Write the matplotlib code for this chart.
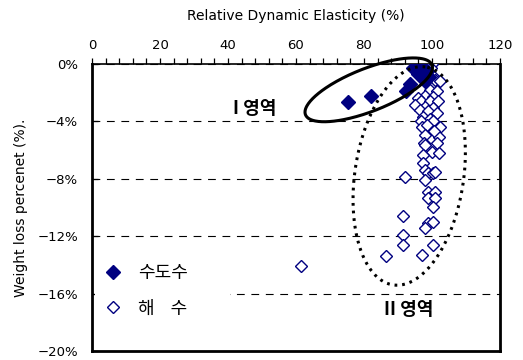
import numpy as np
import matplotlib.pyplot as plt
from matplotlib.font_manager import FontProperties

# tap water specimens (relative dynamic elasticity %, weight loss %)
tap_rde = [75.3, 82.2, 92.3, 93.5, 94.5, 96.0, 96.5, 97.5, 98.0, 98.5, 99.0]
tap_wl = [-2.65, -2.2, -1.9, -1.4, -0.3, -0.7, -0.1, -0.3, -1.2, -0.5, -0.9]

# sea water specimens
sea_rde = [100.0, 99.6, 96.7, 99.0, 100.5, 100.9, 102.4, 99.4, 101.4, 98.0,
           100.3, 95.9, 96.9, 99.4, 101.8, 95.0, 98.0, 100.3, 96.5, 98.9,
           101.4, 97.4, 99.4, 96.9, 100.3,
           97.0, 98.4, 102.4, 97.9, 102.0, 100.5, 97.6, 98.0, 101.5, 99.9,
           102.0, 97.5, 97.5, 98.0, 98.9, 100.3, 100.9, 98.0, 92.0,
           98.9, 100.9, 98.9, 100.9, 100.3, 91.6, 98.9, 100.3, 98.0, 91.6,
           91.6, 100.3, 97.0, 86.5, 61.5]
sea_wl = [0.0, -0.3, -0.5, -0.6, -0.9, -1.1, -1.2, -1.8, -1.9, -2.2,
          -2.3, -2.4, -2.6, -2.6, -2.6, -2.85, -3.0, -3.1, -3.2, -3.3,
          -3.4, -3.7, -3.8, -4.0, -4.0,
          -4.37, -4.25, -4.37, -4.95, -5.07, -4.7, -5.53, -5.65, -5.5, -6.1,
          -6.2, -6.35, -6.9, -7.4, -7.6, -7.6, -7.5, -8.1, -7.9,
          -8.9, -8.9, -9.36, -9.36, -9.94, -10.6, -11.1, -11.0, -11.45, -11.9,
          -12.6, -12.6, -13.3, -13.4, -14.1]

x_ticks = [0, 20, 40, 60, 80, 100, 120]
y_ticks = [-20, -16, -12, -8, -4, 0]
y_labels = ['\u221220%', '\u221216%', '\u221212%', '\u22128%', '\u22124%', '0%']

navy = '#000080'
kr = 'Noto Sans CJK KR'

fig = plt.figure(figsize=(5.23, 3.6), dpi=100)
ax = fig.add_axes([0.1759, 0.025, 0.7801, 0.7972])
ax.set_xlim(0, 120)
ax.set_ylim(-20, 0)

ax.xaxis.tick_top()
ax.xaxis.set_label_position('top')
ax.set_xticks(x_ticks)
ax.set_xticks(np.arange(0, 121, 4), minor=True)
ax.tick_params(axis='x', which='both', direction='out', length=4, width=0.9,
               labelsize=9.5, pad=4.5, colors='black')
ax.set_yticks(y_ticks)
ax.set_yticklabels(y_labels)
ax.tick_params(axis='y', direction='in', length=4, width=0.9, labelsize=9.5, pad=10)
ax.set_xlabel('Relative Dynamic Elasticity (%)', fontsize=10, labelpad=13.5)
ax.set_ylabel('Weight loss percenet (%).', fontsize=10, labelpad=7)

for side in ['left', 'right', 'bottom']:
    ax.spines[side].set_linewidth(2)
ax.spines['top'].set_linewidth(1.2)

# dashed horizontal guides
ax.yaxis.grid(True, linestyle=(0, (7, 6)), color='black', linewidth=0.8)
ax.set_axisbelow(True)

ax.plot(tap_rde, tap_wl, ls='none', marker='D', markersize=7, color=navy,
        label='수도수', zorder=4)
ax.plot(sea_rde, sea_wl, ls='none', marker='D', markersize=6, markerfacecolor='white',
        markeredgecolor=navy, markeredgewidth=1.0, label='해    수', zorder=3)


def ellipse_pts(cx, cy, a, b, ang):
    # a, b in x units; y is squeezed by the axes aspect (px per % / px per x unit)
    k = 14.35 / 3.4
    t = np.linspace(0, 2 * np.pi, 300)
    th = np.radians(ang)
    u = a * np.cos(t) * np.cos(th) - b * np.sin(t) * np.sin(th)
    v = a * np.cos(t) * np.sin(th) + b * np.sin(t) * np.cos(th)
    return cx + u, cy + v / k


ex, ey = ellipse_pts(81.4, -1.8, 20.0, 6.3, 21.5)
ax.plot(ex, ey, color='black', linewidth=2.2, clip_on=False, zorder=5)
dx, dy = ellipse_pts(93.3, -7.8, 32.4, 16.0, 81.6)
ax.plot(dx, dy, color='black', linewidth=2.2, linestyle=(0, (0.9, 1.6)),
        dash_capstyle='butt', clip_on=False, zorder=5)

ax.text(47.9, -3.07, 'I 영역', fontsize=13, fontweight='bold', family=[kr, 'DejaVu Sans'],
        ha='center', va='center')
ax.text(93.2, -17.1, 'II 영역', fontsize=13, fontweight='bold', family=[kr, 'DejaVu Sans'],
        ha='center', va='center')

# legend box stretched so it blanks the left part of the -16% guide
leg = ax.legend(loc='upper left', bbox_to_anchor=(0.0, 0.243, 0.345, 0.1), mode='expand',
                prop=FontProperties(family=kr, size=13),
                frameon=True, facecolor='white', edgecolor='none', framealpha=1,
                labelspacing=0.95, handletextpad=0.9, borderpad=0.5, handlelength=1.0,
                borderaxespad=0.15)

fig.savefig('out.png', dpi=100)
